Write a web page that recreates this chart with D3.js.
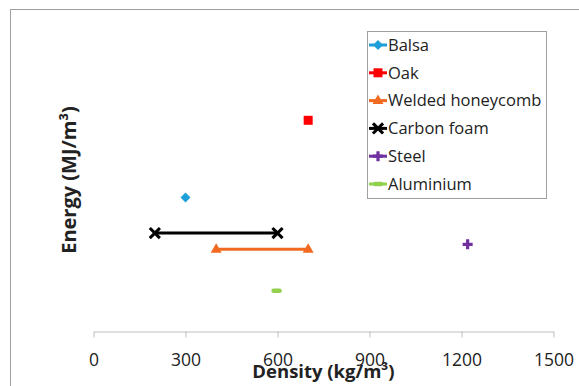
<!DOCTYPE html>
<html>
<head>
<meta charset="utf-8">
<script src="https://cdn.jsdelivr.net/npm/d3@7"></script>
<style>
  html, body { margin: 0; padding: 0; background: #fff; }
  svg { display: block; font-family: "Open Sans", "Liberation Sans", sans-serif; }
</style>
</head>
<body>
<svg id="chart" width="579" height="386"></svg>
<script>
// Materials: density (kg/m³) vs absorbed energy (MJ/m³)
const materials = ["Balsa", "Oak", "Welded honeycomb", "Carbon foam", "Steel", "Aluminium"];
const colors = ["#1f9fd9", "#ff0000", "#f26a21", "#000000", "#7030a0", "#92d050"];
const symbols = ["diamond", "square", "triangle", "cross", "plus", "dash"];

// Each material is a range (min/max density) at a fixed energy level
const densityMin = [300, 700, 400, 200, 1220, 597];
const densityMax = [300, 700, 700, 600, 1220, 597];
const energy = [4.3, 6.78, 2.64, 3.16, 2.8, 1.31];

const xTicks = [0, 300, 600, 900, 1200, 1500];
const xTitle = "Density (kg/m³)";
const yTitle = "Energy (MJ/m³)";

const svg = d3.select("#chart");

// Chart area frame
svg.append("rect")
  .attr("x", 10.5).attr("y", 9.5)
  .attr("width", 600).attr("height", 400)
  .attr("fill", "none").attr("stroke", "#a0a0a0").attr("stroke-width", 1);

const x = d3.scaleLinear().domain([0, 1500]).range([93.5, 553.5]);
const y = d3.scaleLinear().domain([0, 10]).range([331.5, 20]);

// X axis: light grey, ticks pointing down
const xAxis = svg.append("g")
  .attr("transform", `translate(0,${y(0)})`)
  .call(d3.axisBottom(x).tickValues(xTicks).tickFormat(d3.format("d"))
    .tickSize(6).tickSizeOuter(0).tickPadding(16));
xAxis.select(".domain").attr("stroke", "#bfbfbf");
xAxis.selectAll(".tick line").attr("stroke", "#bfbfbf");
xAxis.selectAll(".tick text")
  .attr("fill", "#222").attr("font-size", 17.5)
  .attr("font-family", "'Open Sans', sans-serif");

// Axis titles
svg.append("text")
  .attr("x", (x(0) + x(1500)) / 2).attr("y", 378)
  .attr("text-anchor", "middle")
  .attr("font-weight", "bold").attr("font-size", 18.5).attr("fill", "#222")
  .text(xTitle);

svg.append("text")
  .attr("transform", "translate(76,180) rotate(-90)")
  .attr("text-anchor", "middle")
  .attr("font-weight", "bold").attr("font-size", 20).attr("fill", "#222")
  .text(yTitle);

// Marker drawing
function marker(g, type, color, cx, cy) {
  if (type === "diamond") {
    g.append("path").attr("d", `M${cx},${cy-5}L${cx+5},${cy}L${cx},${cy+5}L${cx-5},${cy}Z`).attr("fill", color);
  } else if (type === "square") {
    g.append("rect").attr("x", cx-4.5).attr("y", cy-4.5).attr("width", 9).attr("height", 9).attr("fill", color);
  } else if (type === "triangle") {
    g.append("path").attr("d", `M${cx},${cy-6}L${cx+5.5},${cy+3.5}L${cx-5.5},${cy+3.5}Z`).attr("fill", color);
  } else if (type === "cross") {
    g.append("path").attr("d", `M${cx-4},${cy-4}L${cx+4},${cy+4}M${cx+4},${cy-4}L${cx-4},${cy+4}`)
      .attr("stroke", color).attr("stroke-width", 3).attr("stroke-linecap", "square");
  } else if (type === "plus") {
    g.append("path").attr("d", `M${cx-5},${cy}L${cx+5},${cy}M${cx},${cy-5}L${cx},${cy+5}`)
      .attr("stroke", color).attr("stroke-width", 3.2);
  } else if (type === "dash") {
    g.append("path").attr("d", `M${cx-3},${cy}L${cx+3},${cy}`)
      .attr("stroke", color).attr("stroke-width", 4.5).attr("stroke-linecap", "round");
  }
}

// Series
const plot = svg.append("g");
materials.forEach((m, i) => {
  const g = plot.append("g");
  const x0 = x(densityMin[i]), x1 = x(densityMax[i]), yy = y(energy[i]);
  if (densityMax[i] > densityMin[i]) {
    g.append("line").attr("x1", x0).attr("x2", x1).attr("y1", yy).attr("y2", yy)
      .attr("stroke", colors[i]).attr("stroke-width", 3);
    marker(g, symbols[i], colors[i], x0, yy);
    marker(g, symbols[i], colors[i], x1, yy);
  } else {
    marker(g, symbols[i], colors[i], x0, yy);
  }
});

// Legend
const lg = svg.append("g");
lg.append("rect").attr("x", 367.5).attr("y", 31.5).attr("width", 179).attr("height", 167)
  .attr("fill", "#fff").attr("stroke", "#a0a0a0");
materials.forEach((m, i) => {
  const ly = 45 + i * 27.8;
  lg.append("line").attr("x1", 369).attr("x2", 387).attr("y1", ly).attr("y2", ly)
    .attr("stroke", colors[i]).attr("stroke-width", 3);
  marker(lg, symbols[i], colors[i], 378, ly);
  lg.append("text").attr("x", 388).attr("y", ly).attr("dy", "0.35em")
    .attr("font-size", 16.5).attr("fill", "#222").text(m);
});
</script>
</body>
</html>
